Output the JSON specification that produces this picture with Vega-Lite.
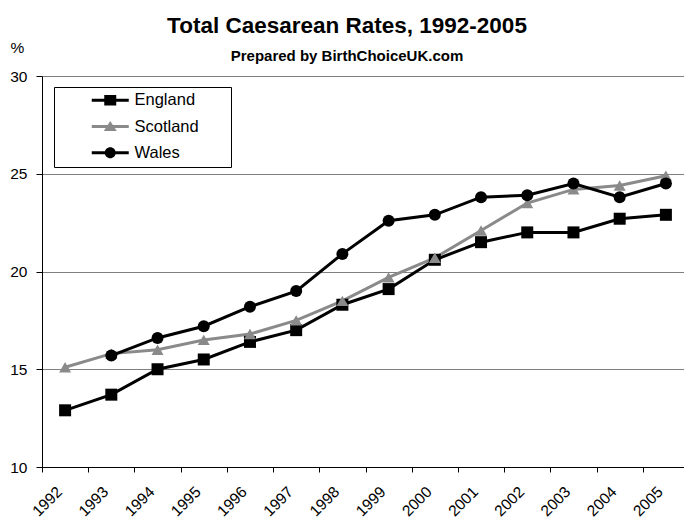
{
  "$schema": "https://vega.github.io/schema/vega-lite/v6.json",
  "autosize": {"type": "none"},
  "width": 642,
  "height": 391,
  "padding": {"left": 42, "top": 76, "right": 0, "bottom": 55},
  "background": "white",
  "title": {
    "text": "Total Caesarean Rates, 1992-2005",
    "subtitle": "Prepared by BirthChoiceUK.com",
    "anchor": "middle",
    "dx": -16,
    "offset": -24,
    "font": "Liberation Sans",
    "fontSize": 22.5,
    "fontWeight": "bold",
    "color": "black",
    "subtitleFont": "Liberation Sans",
    "subtitleFontSize": 15,
    "subtitleFontWeight": "bold",
    "subtitleColor": "black",
    "subtitlePadding": 12
  },
  "config": {
    "view": {"stroke": null},
    "font": "Liberation Sans",
    "legend": {
      "orient": "none",
      "legendX": 12,
      "legendY": 11,
      "padding": 5,
      "strokeColor": "black",
      "fillColor": "white",
      "labelFont": "Liberation Sans",
      "labelFontSize": 16.5,
      "labelColor": "black",
      "labelLimit": 400,
      "symbolSize": 100,
      "symbolOpacity": 1,
      "symbolStrokeWidth": 0,
      "symbolOffset": 43,
      "labelOffset": 16,
      "rowPadding": 9.3
    }
  },
  "data": {
    "values": [
      {"year": "1992", "country": "England", "rate": 12.9},
      {"year": "1993", "country": "England", "rate": 13.7},
      {"year": "1994", "country": "England", "rate": 15.0},
      {"year": "1995", "country": "England", "rate": 15.5},
      {"year": "1996", "country": "England", "rate": 16.4},
      {"year": "1997", "country": "England", "rate": 17.0},
      {"year": "1998", "country": "England", "rate": 18.3},
      {"year": "1999", "country": "England", "rate": 19.1},
      {"year": "2000", "country": "England", "rate": 20.6},
      {"year": "2001", "country": "England", "rate": 21.5},
      {"year": "2002", "country": "England", "rate": 22.0},
      {"year": "2003", "country": "England", "rate": 22.0},
      {"year": "2004", "country": "England", "rate": 22.7},
      {"year": "2005", "country": "England", "rate": 22.9},
      {"year": "1992", "country": "Scotland", "rate": 15.1},
      {"year": "1993", "country": "Scotland", "rate": 15.8},
      {"year": "1994", "country": "Scotland", "rate": 16.0},
      {"year": "1995", "country": "Scotland", "rate": 16.5},
      {"year": "1996", "country": "Scotland", "rate": 16.8},
      {"year": "1997", "country": "Scotland", "rate": 17.5},
      {"year": "1998", "country": "Scotland", "rate": 18.5},
      {"year": "1999", "country": "Scotland", "rate": 19.7},
      {"year": "2000", "country": "Scotland", "rate": 20.7},
      {"year": "2001", "country": "Scotland", "rate": 22.1},
      {"year": "2002", "country": "Scotland", "rate": 23.5},
      {"year": "2003", "country": "Scotland", "rate": 24.2},
      {"year": "2004", "country": "Scotland", "rate": 24.4},
      {"year": "2005", "country": "Scotland", "rate": 24.9},
      {"year": "1993", "country": "Wales", "rate": 15.7},
      {"year": "1994", "country": "Wales", "rate": 16.6},
      {"year": "1995", "country": "Wales", "rate": 17.2},
      {"year": "1996", "country": "Wales", "rate": 18.2},
      {"year": "1997", "country": "Wales", "rate": 19.0},
      {"year": "1998", "country": "Wales", "rate": 20.9},
      {"year": "1999", "country": "Wales", "rate": 22.6},
      {"year": "2000", "country": "Wales", "rate": 22.9},
      {"year": "2001", "country": "Wales", "rate": 23.8},
      {"year": "2002", "country": "Wales", "rate": 23.9},
      {"year": "2003", "country": "Wales", "rate": 24.5},
      {"year": "2004", "country": "Wales", "rate": 23.8},
      {"year": "2005", "country": "Wales", "rate": 24.5}
    ]
  },
  "encoding": {
    "x": {
      "field": "year",
      "type": "ordinal",
      "scale": {"type": "band", "paddingInner": 0, "paddingOuter": 0, "range": [0, 647]},
      "axis": {
        "title": null,
        "tickBand": "extent",
        "labelAngle": -45,
        "labelFont": "Liberation Sans",
        "labelFontSize": 15.5,
        "labelColor": "black",
        "labelOffset": -11,
        "labelPadding": 12,
        "domainColor": "black",
        "domainWidth": 1,
        "tickColor": "black",
        "tickSize": 5,
        "grid": false
      }
    },
    "y": {
      "field": "rate",
      "type": "quantitative",
      "scale": {"domain": [10, 30], "nice": false, "zero": false},
      "axis": {
        "title": "%",
        "titleAngle": 0,
        "titleX": -32,
        "titleY": -24,
        "titleAlign": "left",
        "titleBaseline": "alphabetic",
        "titleFont": "Liberation Sans",
        "titleFontSize": 15.5,
        "titleFontWeight": "normal",
        "titleColor": "black",
        "values": [10, 15, 20, 25, 30],
        "grid": true,
        "gridColor": "#7f7f7f",
        "gridWidth": 1,
        "domainColor": "black",
        "tickColor": "black",
        "tickSize": 6,
        "labelPadding": 9,
        "labelFont": "Liberation Sans",
        "labelFontSize": 15.5,
        "labelColor": "black"
      }
    }
  },
  "layer": [
    {
      "mark": {"type": "line", "strokeWidth": 3},
      "encoding": {
        "color": {
          "field": "country",
          "type": "nominal",
          "scale": {"domain": ["England", "Scotland", "Wales"], "range": ["#000000", "#8a8a8a", "#000000"]},
          "legend": null
        }
      }
    },
    {
      "mark": {"type": "point", "filled": true, "opacity": 1, "size": 144},
      "encoding": {
        "color": {
          "field": "country",
          "type": "nominal",
          "scale": {"domain": ["England", "Scotland", "Wales"], "range": ["#000000", "#8a8a8a", "#000000"]},
          "legend": null
        },
        "shape": {
          "field": "country",
          "type": "nominal",
          "scale": {"domain": ["England", "Scotland", "Wales"], "range": ["square", "triangle-up", "circle"]},
          "legend": null
        }
      }
    },
    {
      "mark": {"type": "point", "filled": true, "opacity": 0, "size": 100},
      "encoding": {
        "color": {
          "field": "country",
          "type": "nominal",
          "scale": {"domain": ["England", "Scotland", "Wales"], "range": ["#000000", "#8a8a8a", "#000000"]},
          "legend": {"title": null}
        },
        "shape": {
          "field": "country",
          "type": "nominal",
          "scale": {
            "domain": ["England", "Scotland", "Wales"],
            "range": [
              "M-3.7,-0.3H3.7V0.3H-3.7ZM-1.2,-1.07H1.2V1.07H-1.2ZM23.1,0L23.1,0",
              "M-3.7,-0.3H3.7V0.3H-3.7ZM0,-1.1L1.3,0.9L-1.3,0.9ZM23.1,0L23.1,0",
              "M-3.7,-0.3H3.7V0.3H-3.7ZM-1.1,0A1.1,1.1 0 1,1 1.1,0A1.1,1.1 0 1,1 -1.1,0ZM23.1,0L23.1,0"
            ]
          },
          "legend": {"title": null}
        }
      }
    }
  ],
  "resolve": {"scale": {"color": "independent", "shape": "independent"}}
}
